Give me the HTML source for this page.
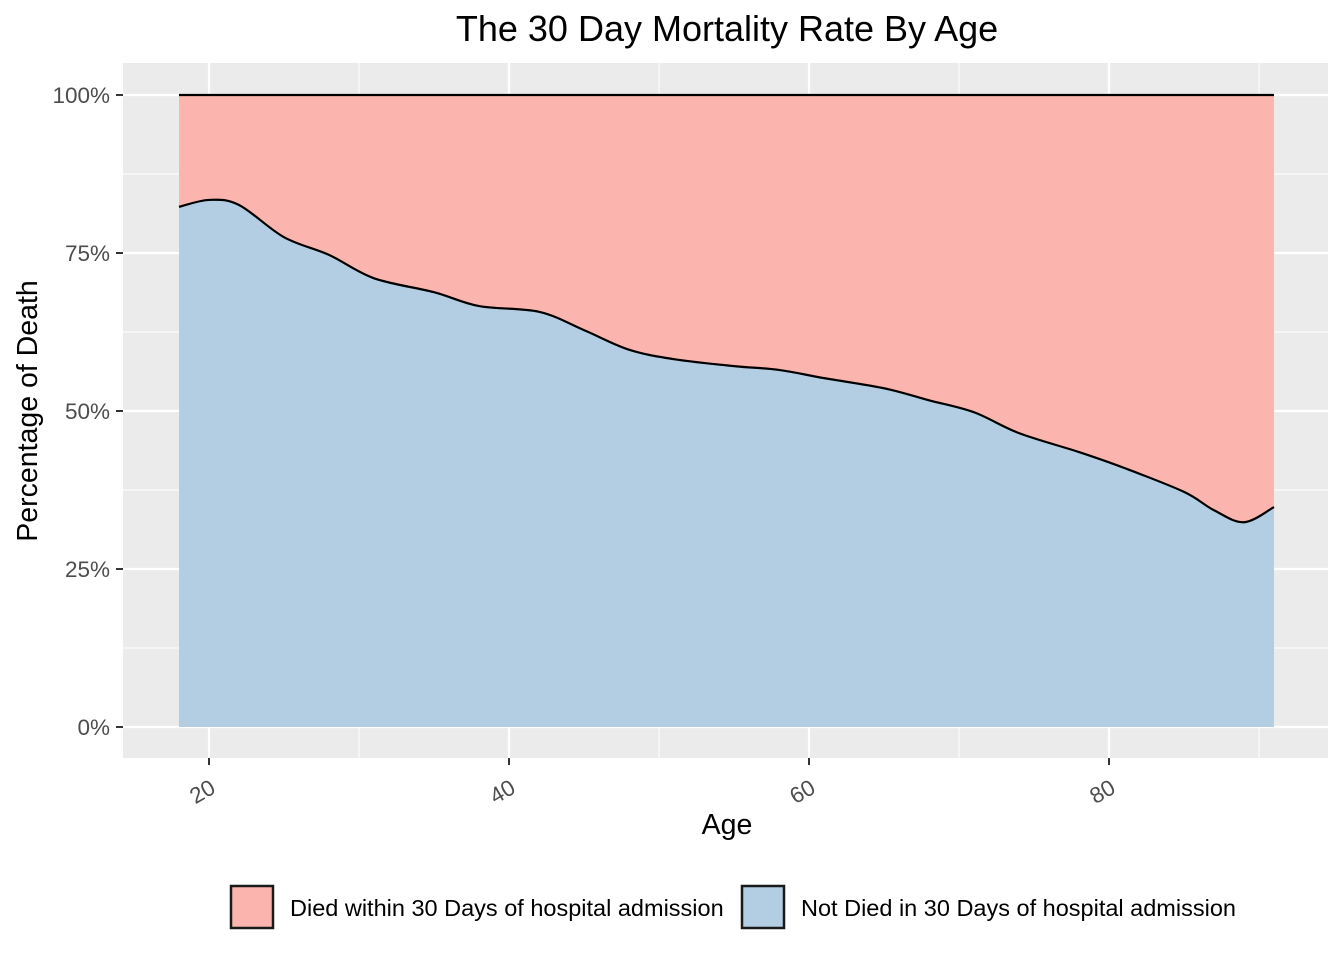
<!DOCTYPE html>
<html><head><meta charset="utf-8"><style>
html,body{margin:0;padding:0;background:#fff;}
svg text{font-family:"Liberation Sans",sans-serif;}
</style></head><body>
<svg id="chart" width="1344" height="960" xmlns="http://www.w3.org/2000/svg">
<rect x="0" y="0" width="1344" height="960" fill="#fff"/>
<rect x="123" y="63" width="1205" height="695" fill="#ebebeb"/>
<g id="grid"></g>
<g id="marks"></g>
<g id="axes"></g>
<text x="727" y="41" font-size="36" text-anchor="middle" fill="#000">The 30 Day Mortality Rate By Age</text>
<text x="727" y="834" font-size="28.5" text-anchor="middle" fill="#000">Age</text>
<text transform="translate(37,411) rotate(-90)" font-size="28.5" text-anchor="middle" fill="#000">Percentage of Death</text>
<g>
<g>
<rect x="231" y="886" width="42" height="42" fill="#fbb4ae" stroke="#1a1a1a" stroke-width="2.5"/>
<text x="290" y="916" font-size="23.5" fill="#000">Died within 30 Days of hospital admission</text>
</g>
<g>
<rect x="742" y="886" width="42" height="42" fill="#b3cde3" stroke="#1a1a1a" stroke-width="2.5"/>
<text x="801" y="916" font-size="23.5" fill="#000">Not Died in 30 Days of hospital admission</text>
</g>
</g>
</svg>
<script>
const ages = [18,20,22,25,28,31,35,38,42,45,48,51,55,58,61,65,68,71,74,78,81,85,87,89,91];
const notDiedShare = [0.823,0.834,0.826,0.775,0.747,0.71,0.688,0.666,0.657,0.628,0.597,0.582,0.571,0.565,0.552,0.536,0.517,0.498,0.465,0.435,0.41,0.372,0.343,0.324,0.348];
const xTicks = [20,40,60,80];
const yTicks = [0,0.25,0.5,0.75,1];
const yTickLabels = ['0%','25%','50%','75%','100%'];
const NS='http://www.w3.org/2000/svg';
function xs(v){return 209+(v-20)*15;}
function ys(v){return 727-v*632;}
function mk(tag,attrs,parent){const e=document.createElementNS(NS,tag);for(const k in attrs)e.setAttribute(k,attrs[k]);parent.appendChild(e);return e;}
const gridG=document.getElementById('grid'),marksG=document.getElementById('marks'),axesG=document.getElementById('axes');
for(let i=0;i<xTicks.length;i++){const m=xTicks[i]+10;const l=mk('line',{x1:xs(m),x2:xs(m),y1:63,y2:758,stroke:'#fff','stroke-width':1},gridG);

}
for(let i=0;i<yTicks.length-1;i++){const m=(yTicks[i]+yTicks[i+1])/2;const l=mk('line',{x1:123,x2:1328,y1:ys(m),y2:ys(m),stroke:'#fff','stroke-width':1},gridG);

}
xTicks.forEach(t=>{const l=mk('line',{x1:xs(t),x2:xs(t),y1:63,y2:758,stroke:'#fff','stroke-width':2.2},gridG);


const tk=mk('line',{x1:xs(t),x2:xs(t),y1:758,y2:765,stroke:'#333','stroke-width':2},axesG);


const tx=mk('text',{transform:`translate(${xs(t)+8},${792}) rotate(-30)`,'font-size':22.5,'text-anchor':'end',fill:'#4d4d4d'},axesG);
tx.textContent=t;

});
yTicks.forEach((t,i)=>{const l=mk('line',{x1:123,x2:1328,y1:ys(t),y2:ys(t),stroke:'#fff','stroke-width':2.2},gridG);


const tk=mk('line',{x1:116,x2:123,y1:ys(t),y2:ys(t),stroke:'#333','stroke-width':2},axesG);


const tx=mk('text',{x:110,y:ys(t)+8,'font-size':22.5,'text-anchor':'end',fill:'#4d4d4d'},axesG);
tx.textContent=yTickLabels[i];

});
const pts=ages.map((a,i)=>[xs(a),ys(notDiedShare[i])]);
let curve=`M${pts[0][0]},${pts[0][1]}`;
for(let i=0;i<pts.length-1;i++){const p0=pts[Math.max(0,i-1)],p1=pts[i],p2=pts[i+1],p3=pts[Math.min(pts.length-1,i+2)];
curve+=` C${p1[0]+(p2[0]-p0[0])/6},${p1[1]+(p2[1]-p0[1])/6} ${p2[0]-(p3[0]-p1[0])/6},${p2[1]-(p3[1]-p1[1])/6} ${p2[0]},${p2[1]}`;}
const x0=xs(ages[0]),x1=xs(ages[ages.length-1]);
const died=mk('path',{d:`M${x0},${ys(1)} L${x1},${ys(1)} L${x1},${ys(0)} L${x0},${ys(0)} Z`,fill:'#fbb4ae'},marksG);


const nd=mk('path',{d:curve+` L${x1},${ys(0)} L${x0},${ys(0)} Z`,fill:'#b3cde3'},marksG);


const ln=mk('path',{d:curve,fill:'none',stroke:'#000','stroke-width':2.2},marksG);


const topLine=mk('line',{x1:x0,x2:x1,y1:ys(1),y2:ys(1),stroke:'#000','stroke-width':2.2},marksG);


</script>
</body></html>
